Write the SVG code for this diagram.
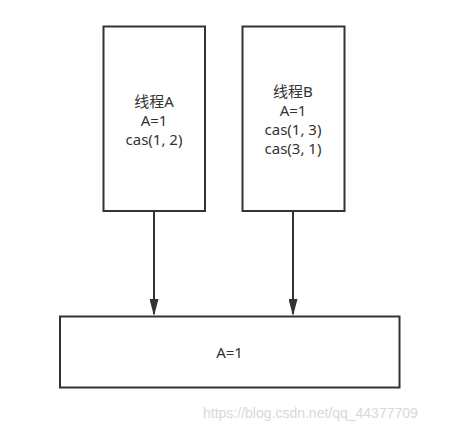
<svg xmlns="http://www.w3.org/2000/svg" width="456" height="430" viewBox="0 0 456 430">
<style>
.box{fill:#ffffff;stroke:#333333;stroke-width:2}
.t{font-family:"Noto Sans","Noto Sans CJK SC",sans-serif;font-size:15px;fill:#333333;text-anchor:middle}
.edge{stroke:#333333;stroke-width:2;fill:none;marker-end:url(#arr)}
.wm{font-family:"Liberation Sans",Arial,sans-serif;font-size:14px;fill:#d8d8d8}
</style>
<defs>
<marker id="arr" markerWidth="17" markerHeight="9" refX="15" refY="4.5" orient="auto" markerUnits="userSpaceOnUse" viewBox="0 0 17 9">
<path d="M0,0 L17,4.5 L0,9 Z" fill="#333333"/>
</marker>
</defs>
<rect width="456" height="430" fill="#ffffff"/>
<g id="threadA">
<rect class="box" x="103.5" y="26.5" width="101.5" height="184.5"/>
<text class="t" x="154" y="107">线程A</text>
<text class="t" x="154" y="126">A=1</text>
<text class="t" x="154" y="145">cas(1, 2)</text>
</g>
<g id="threadB">
<rect class="box" x="242.5" y="26.5" width="102" height="184.5"/>
<text class="t" x="293" y="97">线程B</text>
<text class="t" x="293" y="116">A=1</text>
<text class="t" x="293" y="135">cas(1, 3)</text>
<text class="t" x="293" y="154">cas(3, 1)</text>
</g>
<g id="memory">
<rect class="box" x="60" y="316.5" width="339.5" height="71"/>
<text class="t" x="229.5" y="358">A=1</text>
</g>
<g id="connectors">
<line class="edge" x1="154" y1="211" x2="154" y2="314"/>
<line class="edge" x1="293" y1="211" x2="293" y2="314"/>
</g>
<text class="wm" x="203" y="418">https://blog.csdn.net/qq_44377709</text>
</svg>
